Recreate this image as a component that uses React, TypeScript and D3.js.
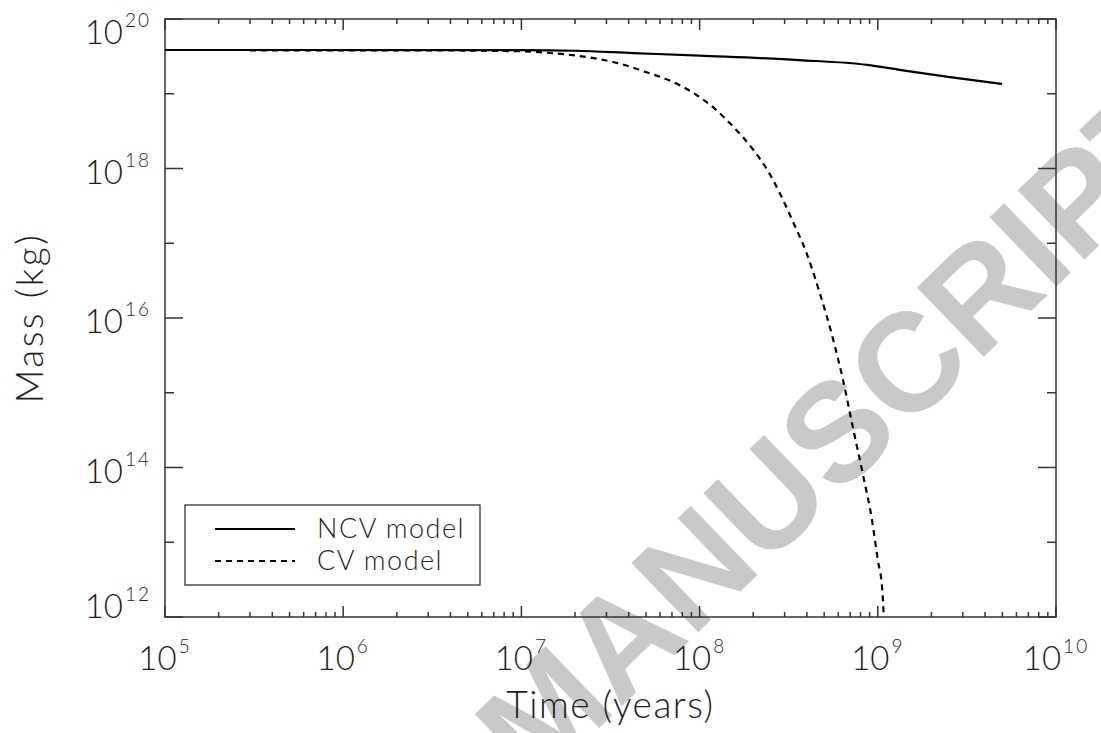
import React from 'react';
import * as d3 from 'd3';

// ---- Data ----
const NCV_TIME = [1e5, 1e7, 2.0e7, 4.23e7, 1e8, 3.63e8, 8.71e8, 1.32e9, 2.54e9, 4.98e9];
const NCV_MASS = [3.85e19, 3.84e19, 3.76e19, 3.50e19, 3.23e19, 2.82e19, 2.43e19, 2.09e19, 1.67e19, 1.35e19];

const CV_TIME = [3.0e5, 3e6, 1e7, 1.45e7, 2.34e7, 3.47e7, 5.0e7, 7.08e7, 9.66e7, 1.19e8, 1.55e8, 2.0e8, 2.4e8, 2.82e8, 3.31e8, 3.98e8, 4.73e8, 5.62e8, 6.38e8, 7.24e8, 8.26e8, 9.27e8, 1.0e9, 1.06e9, 1.08e9];
const CV_MASS = [3.80e19, 3.80e19, 3.70e19, 3.51e19, 3.09e19, 2.57e19, 1.95e19, 1.44e19, 9.55e18, 6.61e18, 3.59e18, 1.78e18, 9.55e17, 4.68e17, 2.04e17, 7.41e16, 2.14e16, 5.13e15, 1.48e15, 3.47e14, 7.94e13, 2.0e13, 5.8e12, 2.29e12, 1.0e12];

const X_DOMAIN = [1e5, 1e10];
const Y_DOMAIN = [1e12, 1e20];
const X_MAJOR_EXP = [5, 6, 7, 8, 9, 10];
const Y_LABEL_EXP = [12, 14, 16, 18, 20];
const Y_MINOR_EXP = [13, 15, 17, 19];

const LEGEND = [
  { label: 'NCV model', dash: null as string | null },
  { label: 'CV model', dash: '6,5' },
];

const X_TITLE = 'Time (years)';
const Y_TITLE = 'Mass (kg)';
const WATERMARK = 'MANUSCRIPT';

const W = 1101;
const H = 733;
const L = 165, R = 1056, T = 19, B = 617;

const FONT = "Lato, 'DejaVu Sans', sans-serif";
const AX = '#333';
const TXT = '#1e1e1e';

export default function App() {
  const x = d3.scaleLog().domain(X_DOMAIN).range([L, R]);
  const y = d3.scaleLog().domain(Y_DOMAIN).range([B, T]);

  const line = d3
    .line<[number, number]>()
    .x((d) => x(d[0]))
    .y((d) => y(d[1]))
    .curve(d3.curveMonotoneX);

  const ncv = line(NCV_TIME.map((t, i) => [t, NCV_MASS[i]] as [number, number])) || '';
  const cv = line(CV_TIME.map((t, i) => [t, CV_MASS[i]] as [number, number])) || '';

  const xMajors = X_MAJOR_EXP.map((e) => Math.pow(10, e));
  const xMinors: number[] = [];
  for (let e = 5; e < 10; e++) for (let k = 2; k <= 9; k++) xMinors.push(k * Math.pow(10, e));
  const yMajors = Y_LABEL_EXP.map((e) => Math.pow(10, e));
  const yMinors = Y_MINOR_EXP.map((e) => Math.pow(10, e));

  const tickStyle = { stroke: AX, strokeWidth: 1.5 };

  return (
    <div style={{ position: 'absolute', left: 0, top: 0 }}>
      <svg width={W} height={H} style={{ display: 'block', background: '#fff' }}>
        <defs>
          <clipPath id="plot">
            <rect x={L} y={T} width={R - L} height={B - T} />
          </clipPath>
        </defs>
        <rect x={0} y={0} width={W} height={H} fill="#fff" />
        {/* watermark */}
        <text
          transform="translate(535,790) rotate(-44)"
          fontFamily="'Liberation Sans', Arial, sans-serif"
          fontWeight={700}
          fontSize={140}
          fill="#c8c9cb"
        >
          {WATERMARK}
        </text>

        {/* x ticks (bottom + top) */}
        {xMajors.map((v) => (
          <g key={'xM' + v}>
            <line x1={x(v)} x2={x(v)} y1={B} y2={B - 11} {...tickStyle} />
            <line x1={x(v)} x2={x(v)} y1={T} y2={T + 11} {...tickStyle} />
          </g>
        ))}
        {xMinors.map((v) => (
          <g key={'xm' + v}>
            <line x1={x(v)} x2={x(v)} y1={B} y2={B - 5} {...tickStyle} />
            <line x1={x(v)} x2={x(v)} y1={T} y2={T + 5} {...tickStyle} />
          </g>
        ))}
        {/* y ticks (left + right) */}
        {yMajors.map((v) => (
          <g key={'yM' + v}>
            <line x1={L} x2={L + 18} y1={y(v)} y2={y(v)} {...tickStyle} />
            <line x1={R} x2={R - 18} y1={y(v)} y2={y(v)} {...tickStyle} />
          </g>
        ))}
        {yMinors.map((v) => (
          <g key={'ym' + v}>
            <line x1={L} x2={L + 9} y1={y(v)} y2={y(v)} {...tickStyle} />
            <line x1={R} x2={R - 9} y1={y(v)} y2={y(v)} {...tickStyle} />
          </g>
        ))}
        {/* frame */}
        <rect x={L} y={T} width={R - L} height={B - T} fill="none" stroke={AX} strokeWidth={1.5} />

        {/* curves */}
        <g clipPath="url(#plot)">
          <path d={cv} fill="none" stroke="#000" strokeWidth={2.2} strokeDasharray="6,5" />
          <path d={ncv} fill="none" stroke="#000" strokeWidth={2.2} />
        </g>

        {/* x tick labels */}
        {X_MAJOR_EXP.map((e) => (
          <text
            key={'xl' + e}
            x={x(Math.pow(10, e))}
            y={670}
            textAnchor="middle"
            fontFamily={FONT}
            fontWeight={300}
            fontSize={33}
            fill={TXT}
          >
            10
            <tspan dx={2} dy={-17} fontSize={19} letterSpacing={2}>
              {String(e)}
            </tspan>
          </text>
        ))}
        {/* y tick labels */}
        {Y_LABEL_EXP.map((e) => {
          const ty = Math.min(Math.max(y(Math.pow(10, e)) + 15, 44), 618);
          return (
            <text
              key={'yl' + e}
              x={151}
              y={ty}
              textAnchor="end"
              fontFamily={FONT}
              fontWeight={300}
              fontSize={33}
              fill={TXT}
            >
              10
              <tspan dx={2} dy={-17} fontSize={19} letterSpacing={2}>
                {String(e)}
              </tspan>
            </text>
          );
        })}

        {/* axis titles */}
        <text
          x={(L + R) / 2}
          y={718}
          textAnchor="middle"
          fontFamily={FONT}
          fontWeight={300}
          fontSize={37}
          letterSpacing={1.5}
          fill={TXT}
        >
          {X_TITLE}
        </text>
        <text
          transform={`translate(43,${(T + B) / 2}) rotate(-90)`}
          textAnchor="middle"
          fontFamily={FONT}
          fontWeight={300}
          fontSize={37}
          letterSpacing={2.5}
          fill={TXT}
        >
          {Y_TITLE}
        </text>

        {/* legend */}
        <rect x={185} y={505} width={295} height={80} fill="#fff" stroke={AX} strokeWidth={1.3} />
        {LEGEND.map((d, i) => (
          <g key={d.label}>
            <line
              x1={215}
              x2={295}
              y1={529 + i * 32}
              y2={529 + i * 32}
              stroke="#000"
              strokeWidth={2}
              strokeDasharray={d.dash || undefined}
            />
            <text
              x={317}
              y={538 + i * 32}
              fontFamily={FONT}
              fontWeight={300}
              fontSize={27}
              letterSpacing={1.5}
              fill={TXT}
            >
              {d.label}
            </text>
          </g>
        ))}
      </svg>
    </div>
  );
}
